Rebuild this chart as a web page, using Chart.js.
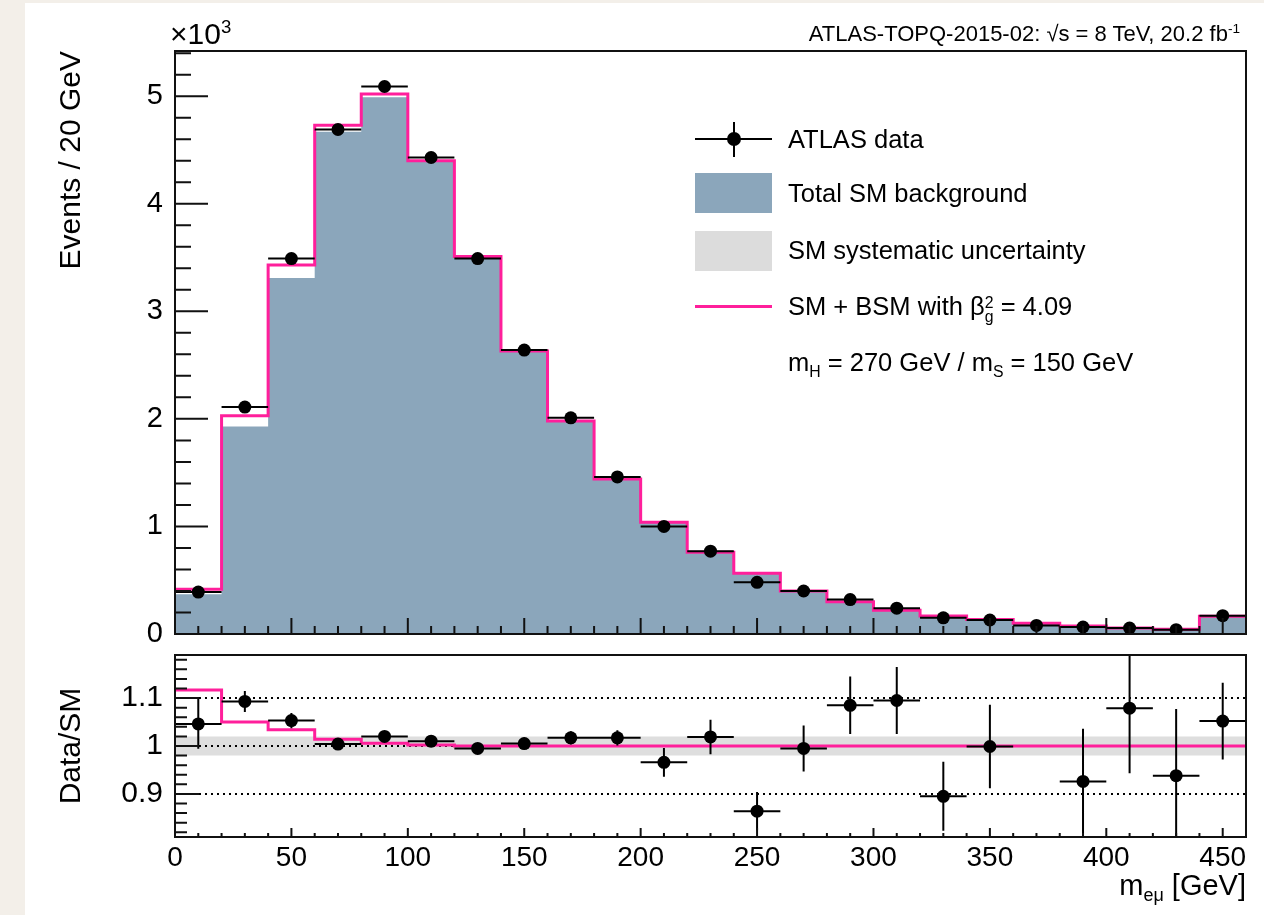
<!DOCTYPE html>
<html>
<head>
<meta charset="utf-8">
<script src="https://cdn.jsdelivr.net/npm/chart.js@4.4.1/dist/chart.umd.min.js"></script>
<style>
  body { margin: 0; background: #f3efe9; font-family: 'Liberation Sans', Arial, sans-serif; }
  #page { position: absolute; left: 25px; top: 3px; width: 1239px; height: 912px; background: #fff; }
  canvas { position: absolute; left: 0; top: 0; }
  .txt { position: absolute; white-space: nowrap; color: #000; }
  .lg { position: absolute; }
  .ss { display: inline-block; vertical-align: -0.45em; line-height: 0.9em; font-size: 0.62em; text-align: left; }
  sub { font-size: 0.62em; vertical-align: -0.35em; line-height: 0; }
  sup { font-size: 0.62em; vertical-align: 0.6em; line-height: 0; }
</style>
</head>
<body>
<div id="page"></div>
<canvas id="topChart" width="1264" height="915"></canvas>
<canvas id="ratioChart" width="1264" height="915"></canvas>

<div class="txt" style="left:170px; top:17px; font-size:30px; line-height:34px;">&times;10<sup>3</sup></div>
<div class="txt" style="right:24px; top:21px; font-size:22px; line-height:26px;">ATLAS-TOPQ-2015-02: &radic;s = 8 TeV, 20.2 fb<sup>-1</sup></div>
<div class="txt" style="right:18px; top:868px; font-size:29px; line-height:34px;">m<sub>e&mu;</sub> [GeV]</div>

<!-- legend -->
<div class="lg" style="left:695px; top:138px; width:77px; height:2px; background:#000;"></div>
<div class="lg" style="left:733px; top:122px; width:2px; height:35px; background:#000;"></div>
<div class="lg" style="left:727px; top:132px; width:14px; height:14px; border-radius:50%; background:#000;"></div>
<div class="lg" style="left:695px; top:173px; width:77px; height:40px; background:#8ba6bb;"></div>
<div class="lg" style="left:695px; top:231px; width:77px; height:40px; background:#dcdcdc;"></div>
<div class="lg" style="left:695px; top:305px; width:77px; height:3px; background:#ff1f9b;"></div>
<div class="txt" style="left:788px; top:124px; font-size:25.5px; line-height:30px;">ATLAS data</div>
<div class="txt" style="left:788px; top:178px; font-size:25.5px; line-height:30px;">Total SM background</div>
<div class="txt" style="left:788px; top:235px; font-size:25.5px; line-height:30px;">SM systematic uncertainty</div>
<div class="txt" style="left:788px; top:291px; font-size:25.5px; line-height:30px;">SM + BSM with &beta;<span class="ss">2<br>g</span> = 4.09</div>
<div class="txt" style="left:788px; top:347px; font-size:25.5px; line-height:30px;">m<sub>H</sub> = 270 GeV / m<sub>S</sub> = 150 GeV</div>

<script>
'use strict';

// bin edges in GeV (20 GeV bins)
const edges = [0, 20, 40, 60, 80, 100, 120, 140, 160, 180, 200, 220, 240, 260, 280, 300, 320, 340, 360, 380, 400, 420, 440, 460];
const centers = [10, 30, 50, 70, 90, 110, 130, 150, 170, 190, 210, 230, 250, 270, 290, 310, 330, 350, 370, 390, 410, 430, 450];

// events / 20 GeV, in units of 10^3
const dataEvents = [0.39, 2.11, 3.49, 4.69, 5.09, 4.43, 3.49, 2.64, 2.01, 1.46, 1.00, 0.77, 0.48, 0.40, 0.32, 0.24, 0.15, 0.13, 0.08, 0.065, 0.055, 0.04, 0.17];
const smBkg = [0.37, 1.93, 3.31, 4.67, 4.99, 4.39, 3.51, 2.63, 1.98, 1.44, 1.04, 0.755, 0.56, 0.40, 0.295, 0.22, 0.167, 0.13, 0.10, 0.07, 0.051, 0.043, 0.16];
const smBsm = [0.415, 2.03, 3.43, 4.73, 5.02, 4.40, 3.51, 2.63, 1.98, 1.44, 1.04, 0.76, 0.565, 0.40, 0.30, 0.22, 0.168, 0.135, 0.10, 0.075, 0.055, 0.045, 0.165];
const systFrac = [0.02, 0.02, 0.02, 0.02, 0.02, 0.02, 0.02, 0.02, 0.02, 0.02, 0.02, 0.02, 0.02, 0.02, 0.02, 0.02, 0.02, 0.02, 0.02, 0.02, 0.02, 0.02, 0.02];

// Data/SM panel (370 GeV point is off scale)
const ratioVals = [1.046, 1.093, 1.053, 1.004, 1.02, 1.01, 0.995, 1.005, 1.017, 1.017, 0.966, 1.019, 0.864, 0.995, 1.085, 1.095, 0.895, 0.999, null, 0.926, 1.079, 0.938, 1.052];
const ratioErr = [0.052, 0.022, 0.016, 0.008, 0.01, 0.01, 0.01, 0.012, 0.014, 0.016, 0.03, 0.036, 0.04, 0.048, 0.06, 0.07, 0.072, 0.087, null, 0.11, 0.136, 0.139, 0.08];
const bsmRatio = [1.117, 1.05, 1.034, 1.014, 1.006, 1.002, 1.0, 1.0, 1.0, 1.0, 1.0, 1.0, 1.0, 1.0, 1.0, 1.0, 1.0, 1.0, 1.0, 1.0, 1.0, 1.0, 1.0];

const xTicks = [0, 50, 100, 150, 200, 250, 300, 350, 400, 450];
const yTicksTop = [0, 1, 2, 3, 4, 5];
const yTicksRatio = [0.9, 1, 1.1];

const blue = '#8ba6bb';
const pink = '#ff1f9b';
const font = 'Liberation Sans';

Chart.defaults.font.family = font;
Chart.defaults.color = '#000';

function histPoints(vals) {
  let pts = vals.map(function (v, i) { return {x: edges[i], y: v}; });
  pts.push({x: edges[edges.length - 1], y: vals[vals.length - 1]});
  return pts;
}

function stepSet(label, vals, extra) {
  return Object.assign({
    label: label,
    data: histPoints(vals),
    stepped: 'before',
    pointRadius: 0,
    borderWidth: 0,
    borderColor: 'transparent',
    fill: false,
  }, extra);
}

// box around the pad and ROOT style ticks pointing inwards
function framePlugin(o) {
  return {
    id: 'frame',
    afterDraw(chart) {
      const c = chart.ctx;
      const a = chart.chartArea;
      const x = chart.scales.x;
      const y = chart.scales.y;
      c.save();
      c.strokeStyle = '#111';
      c.lineWidth = 2;
      c.beginPath();
      for (let v = 0; v <= 460 + 1e-6; v += 10) {
        const px = x.getPixelForValue(v);
        const len = (v % 50 === 0) ? o.xMajor : o.xMinor;
        c.moveTo(px, a.bottom);
        c.lineTo(px, a.bottom - len);
      }
      for (let k = 0; ; k++) {
        const v = o.yStart + k * o.yStep;
        if (v > y.max + 1e-9) break;
        const py = y.getPixelForValue(v);
        const major = Math.abs(v / o.yMajorStep - Math.round(v / o.yMajorStep)) < 1e-6;
        c.moveTo(a.left, py);
        c.lineTo(a.left + (major ? o.yMajor : o.yMinor), py);
      }
      c.stroke();
      c.strokeRect(a.left, a.top, a.right - a.left, a.bottom - a.top);
      c.restore();
    }
  };
}

// x error = bin width, y error from the dataset
const errorBars = {
  id: 'errorBars',
  beforeDatasetDraw(chart, args) {
    const ds = chart.data.datasets[args.index];
    if (!ds.binErrors) return;
    const c = chart.ctx;
    const a = chart.chartArea;
    const x = chart.scales.x;
    const y = chart.scales.y;
    c.save();
    c.beginPath();
    c.rect(a.left, a.top, a.right - a.left, a.bottom - a.top);
    c.clip();
    c.strokeStyle = '#000';
    c.lineWidth = 2;
    c.beginPath();
    ds.data.forEach(function (p, i) {
      if (p.y === null) return;
      const py = y.getPixelForValue(p.y);
      c.moveTo(x.getPixelForValue(edges[i]), py);
      c.lineTo(x.getPixelForValue(edges[i + 1]), py);
      const e = ds.binErrors[i];
      if (e) {
        const px = x.getPixelForValue(p.x);
        c.moveTo(px, y.getPixelForValue(p.y + e));
        c.lineTo(px, y.getPixelForValue(p.y - e));
      }
    });
    c.stroke();
    c.restore();
  }
};

// dotted reference lines drawn just above the uncertainty band
const dottedLines = {
  id: 'dotted',
  afterDatasetDraw(chart, args) {
    if (args.index !== 0) return;
    const c = chart.ctx;
    const a = chart.chartArea;
    const y = chart.scales.y;
    c.save();
    c.strokeStyle = '#000';
    c.lineWidth = 2;
    c.setLineDash([2, 4]);
    c.beginPath();
    yTicksRatio.forEach(function (v) {
      const py = y.getPixelForValue(v);
      c.moveTo(a.left, py);
      c.lineTo(a.right, py);
    });
    c.stroke();
    c.restore();
  }
};

function yAxis(min, max, ticks, title, align, size) {
  return {
    type: 'linear',
    min: min,
    max: max,
    afterFit: function (s) { s.width = 123; },
    afterBuildTicks: function (s) { s.ticks = ticks.map(function (v) { return {value: v}; }); },
    ticks: { font: {size: size}, padding: 12, callback: function (v) { return String(v); } },
    grid: { display: false, drawTicks: false },
    border: { display: false },
    title: { display: true, text: title, align: align, font: {size: 30}, padding: {top: 2, bottom: 4} }
  };
}

const topChart = new Chart(document.getElementById('topChart'), {
  type: 'line',
  data: {
    datasets: [
      stepSet('Total SM background', smBkg, {fill: 'origin', backgroundColor: blue, order: 3}),
      stepSet('SM + BSM', smBsm, {borderColor: pink, borderWidth: 3, order: 2}),
      {
        type: 'scatter',
        label: 'ATLAS data',
        data: centers.map(function (c, i) { return {x: c, y: dataEvents[i]}; }),
        binErrors: [],
        pointRadius: 6.5,
        pointBackgroundColor: '#000',
        pointBorderWidth: 0,
        order: 1
      }
    ]
  },
  options: {
    responsive: false,
    animation: false,
    layout: { padding: {left: 52, right: 18, top: 51, bottom: 281} },
    plugins: { legend: {display: false}, tooltip: {enabled: false} },
    scales: {
      x: { type: 'linear', min: 0, max: 460, display: false },
      y: yAxis(0, 5.42, yTicksTop, 'Events / 20 GeV', 'end', 29)
    }
  },
  plugins: [framePlugin({xMajor: 16, xMinor: 8, yStart: 0, yStep: 0.2, yMajorStep: 1, yMajor: 33, yMinor: 16}), errorBars]
});

const ratioChart = new Chart(document.getElementById('ratioChart'), {
  type: 'line',
  data: {
    datasets: [
      stepSet('band up', systFrac.map(function (u) { return 1 + u; }), {fill: '+1', backgroundColor: '#dedede', order: 4}),
      stepSet('band down', systFrac.map(function (u) { return 1 - u; }), {order: 5}),
      stepSet('SM + BSM / SM', bsmRatio, {borderColor: pink, borderWidth: 3, order: 2}),
      {
        type: 'scatter',
        label: 'Data/SM',
        data: centers.map(function (c, i) { return {x: c, y: ratioVals[i]}; }),
        binErrors: ratioErr,
        pointRadius: 6.5,
        pointBackgroundColor: '#000',
        pointBorderWidth: 0,
        order: 1
      }
    ]
  },
  options: {
    responsive: false,
    animation: false,
    layout: { padding: {left: 52, right: 18, top: 655, bottom: 38} },
    plugins: { legend: {display: false}, tooltip: {enabled: false} },
    scales: {
      x: {
        type: 'linear',
        min: 0,
        max: 460,
        afterFit: function (s) { s.height = 40; },
        afterBuildTicks: function (s) { s.ticks = xTicks.map(function (v) { return {value: v}; }); },
        ticks: { font: {size: 28}, padding: 4, maxRotation: 0, callback: function (v) { return String(v); } },
        grid: { display: false, drawTicks: false },
        border: { display: false }
      },
      y: yAxis(0.81, 1.19, yTicksRatio, 'Data/SM', 'center', 30)
    }
  },
  plugins: [framePlugin({xMajor: 9, xMinor: 4, yStart: 0.82, yStep: 0.02, yMajorStep: 0.1, yMajor: 24, yMinor: 12}), errorBars, dottedLines]
});
</script>
</body>
</html>
